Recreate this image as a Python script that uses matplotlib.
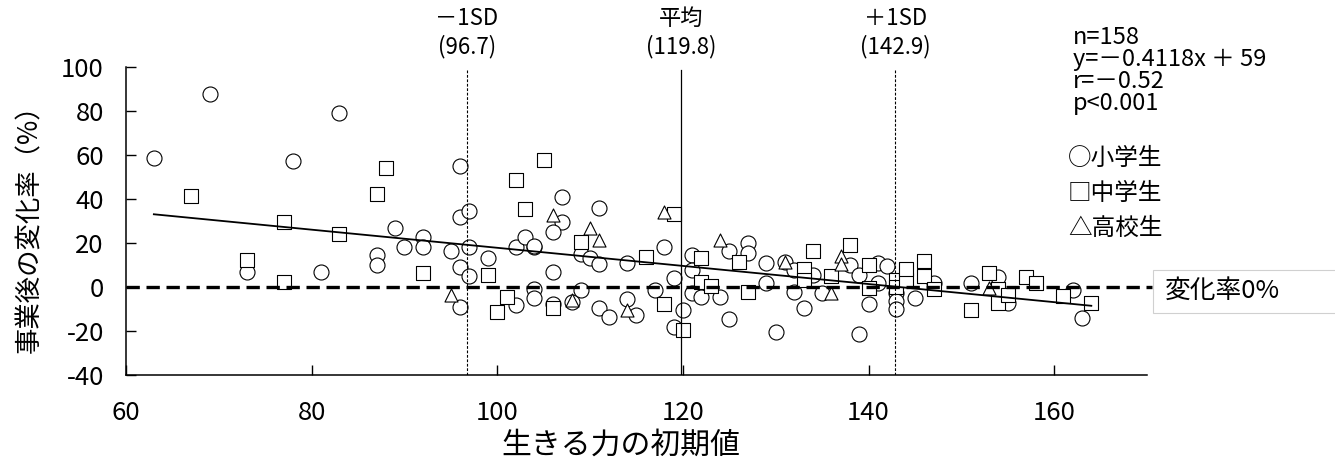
import matplotlib
matplotlib.use('Agg')
import matplotlib.pyplot as plt
from matplotlib.patches import Rectangle

plt.rcParams['font.family'] = ['Noto Sans CJK JP', 'DejaVu Sans']
plt.rcParams['axes.unicode_minus'] = False

# 小学生
elem_x = [63, 69, 83, 78, 89, 92, 92, 90, 95, 87, 87, 73, 81, 96, 96, 97, 97, 96, 97, 96,
          107, 107, 106, 102, 103, 104, 104, 109, 99, 106, 102, 104, 104, 106, 108, 109,
          111, 110, 111, 114, 118, 119, 117, 119, 120, 114, 115, 111, 112,
          121, 121, 121, 122, 124, 125, 125, 127, 127, 129, 129, 131, 132, 132, 133, 130,
          134, 135, 138, 139, 140, 141, 142, 141, 139, 143, 143, 143, 145, 147, 151,
          154, 155, 162, 163]
elem_y = [58.5, 87.9, 79.1, 57.3, 26.6, 22.8, 18.0, 18.3, 16.4, 14.5, 9.9, 6.8, 6.8, 54.9,
          31.9, 34.6, 18.0, 8.9, 4.9, -9.0,
          40.7, 29.6, 24.8, 18.3, 22.8, 18.3, 18.8, 15.2, 13.0, 6.9, -8.2, -1.1, -5.2, -7.5,
          -7.0, -1.4,
          35.7, 13.0, 10.4, 11.0, 18.3, 3.9, -1.4, -18.1, -10.5, -5.6, -12.5, -9.7, -13.8,
          14.5, 7.7, -2.9, -4.4, -4.4, -14.7, 16.4, 19.8, 15.5, 10.7, 1.6, 11.4, 7.7, -2.2,
          -9.7, -20.6,
          5.4, -2.6, 9.9, 5.4, -7.8, 10.7, 9.5, 1.6, -21.4, -2.9, -6.3, -10.2, -5.2, 1.6, 1.6,
          4.6, -7.2, -1.4, -14.3]

# 中学生
junior_x = [67, 88, 87, 77, 83, 73, 77, 92, 105, 102, 103, 109, 99, 101, 100, 106,
            116, 119, 118, 120, 122, 122, 123, 126, 127, 134, 133, 133, 136, 138, 140, 140,
            143, 143, 144, 144, 146, 146, 147, 151, 153, 154, 154, 155, 157, 158, 161, 164]
junior_y = [41.4, 54.3, 42.3, 29.6, 24.0, 12.2, 2.4, 6.2, 57.6, 48.5, 35.4, 20.5, 5.4, -4.4,
            -11.5, -9.7,
            13.7, 33.1, -7.8, -19.6, 13.0, 2.1, 0.4, 11.4, -2.2, 16.3, 8.0, 3.1, 5.1, 19.0, 9.9,
            -0.6, 3.1, 0.1, 3.1, 8.0, 11.8, 5.0, -1.1, -10.5, 6.2, -1.1, -7.2, -3.7, 4.4, 1.6,
            -4.1, -7.2]

# 高校生
high_x = [95, 106, 108, 110, 111, 114, 118, 124, 131, 136, 137, 137, 153]
high_y = [-3.7, 32.6, -5.9, 26.6, 21.3, -10.5, 34.2, 21.3, 11.4, -2.6, 14.0, 10.4, -0.6]

slope = -0.4118
intercept = 59
fit_x = [63, 164]

sd_lines = [96.7, 119.8, 142.9]
sd_labels = ['－1SD\n(96.7)', '平均\n(119.8)', '＋1SD\n(142.9)']
sd_styles = [(0, (2.5, 1.5)), '-', (0, (2.5, 1.5))]

stats_text = 'n=158\ny=－0.4118x ＋ 59\nr=－0.52\np<0.001'
legend_labels = ['○小学生', '□中学生', '△高校生']

fig = plt.figure(figsize=(13.35, 4.63), dpi=100)
ax = fig.add_axes([126 / 1335, 88 / 463, 1021 / 1335, 308 / 463])

ax.scatter(elem_x, elem_y, s=10.8 ** 2, marker='o', facecolor='white', edgecolor='black',
           linewidth=0.8, zorder=2)
ax.scatter(junior_x, junior_y, s=10.2 ** 2, marker='s', facecolor='white', edgecolor='black',
           linewidth=0.8, zorder=2)
ax.scatter(high_x, high_y, s=9.4 ** 2, marker='^', facecolor='white', edgecolor='black',
           linewidth=0.8, zorder=2)

ax.plot(fit_x, [slope * v + intercept for v in fit_x], color='black', lw=1.3, zorder=4)

ax.plot([60, 170.5], [0, 0], color='black', lw=2.4, ls=(0, (4, 2)), zorder=4, clip_on=False)

for xv, lab, st in zip(sd_lines, sd_labels, sd_styles):
    ax.plot([xv, xv], [-40, 98.5], color='black', lw=0.9 if st == '-' else 0.8, ls=st, zorder=4)
    ax.text(xv, 104, lab, ha='center', va='bottom', fontsize=16, linespacing=1.25)

ax.set_xlim(60, 170)
ax.set_ylim(-40, 100)
ax.set_xticks(range(60, 161, 20))
ax.set_yticks(range(-40, 101, 20))
ax.tick_params(direction='in', length=7, width=1, labelsize=18.5)
ax.tick_params(axis='y', pad=16)
ax.tick_params(axis='x', pad=18)
for s in ['top', 'right']:
    ax.spines[s].set_visible(False)
for s in ['left', 'bottom']:
    ax.spines[s].set_linewidth(1.1)

fig.text(621 / 1335, 1 - 445 / 463, '生きる力の初期値', ha='center', va='center', fontsize=21.5)
fig.text(30 / 1335, 1 - 222 / 463, '事業後の変化率（%）', ha='center', va='center',
         rotation=90, fontsize=19)

fig.text(1073 / 1335, 1 - 26 / 463, stats_text, ha='left', va='top', fontsize=17,
         linespacing=0.95)
for i, lab in enumerate(legend_labels):
    fig.text(1068 / 1335, 1 - (158 + 35 * i) / 463, lab, ha='left', va='center', fontsize=17)

fig.patches.append(Rectangle((1153 / 1335, 1 - 313 / 463), 200 / 1335, 43 / 463,
                             transform=fig.transFigure, facecolor='white',
                             edgecolor='#d0d0d0', lw=0.8))
fig.text(1165 / 1335, 1 - 291 / 463, '変化率0%', ha='left', va='center', fontsize=18.5)

fig.savefig('out.png', dpi=100)
